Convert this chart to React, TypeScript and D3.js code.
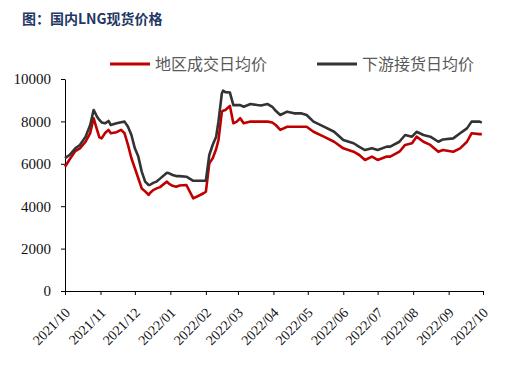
import React, { useEffect, useRef } from "react";
import * as d3 from "d3";

const dates = [
  "2021-10-01", "2021-10-05", "2021-10-10", "2021-10-14", "2021-10-19", "2021-10-23",
  "2021-10-26", "2021-10-29", "2021-10-31", "2021-11-02", "2021-11-05", "2021-11-08",
  "2021-11-10", "2021-11-15", "2021-11-19", "2021-11-22", "2021-11-25", "2021-11-28",
  "2021-12-01", "2021-12-04", "2021-12-07", "2021-12-10", "2021-12-13", "2021-12-14",
  "2021-12-17", "2021-12-20", "2021-12-23", "2021-12-29", "2021-12-31", "2022-01-03",
  "2022-01-06", "2022-01-09", "2022-01-15", "2022-01-21", "2022-01-27", "2022-01-30",
  "2022-02-01", "2022-02-04", "2022-02-07", "2022-02-10", "2022-02-12", "2022-02-15",
  "2022-02-16", "2022-02-18", "2022-02-22", "2022-02-25", "2022-02-28", "2022-03-03",
  "2022-03-06", "2022-03-12", "2022-03-18", "2022-03-21", "2022-03-27", "2022-03-31",
  "2022-04-03", "2022-04-07", "2022-04-13", "2022-04-19", "2022-04-25", "2022-04-30",
  "2022-05-06", "2022-05-15", "2022-05-24", "2022-06-01", "2022-06-10", "2022-06-15",
  "2022-06-20", "2022-06-26", "2022-07-01", "2022-07-09", "2022-07-12", "2022-07-20",
  "2022-07-25", "2022-07-31", "2022-08-04", "2022-08-10", "2022-08-16", "2022-08-23",
  "2022-08-27", "2022-09-05", "2022-09-11", "2022-09-17", "2022-09-21", "2022-09-28",
  "2022-09-30",
];

// 下游接货日均价
const downstream = [
  6270, 6415, 6730, 6890, 7280, 7830,
  8540, 8220, 8070, 7950, 7910, 8020,
  7830, 7910, 7960, 7990, 7750, 7360,
  6730, 6340, 5630, 5160, 5000, 5000,
  5100, 5160, 5300, 5580, 5550, 5470,
  5420, 5420, 5390, 5200, 5200, 5200,
  5200, 6415, 6900, 7280, 8000, 9330,
  9450, 9380, 9360, 8770, 8770, 8770,
  8690, 8820, 8770, 8750, 8820, 8690,
  8500, 8300, 8460, 8380, 8380, 8300,
  7990, 7750, 7510, 7120, 6970, 6800,
  6650, 6730, 6650, 6810, 6810, 7040,
  7360, 7280, 7510, 7360, 7280, 7040,
  7150, 7200, 7440, 7670, 7990, 7990,
  7940,
];

// 地区成交日均价
const regional = [
  5860, 6200, 6600, 6730, 7040, 7450,
  8150, 7600, 7250, 7200, 7450, 7600,
  7440, 7490, 7600, 7440, 6890, 6260,
  5790, 5320, 4840, 4700, 4530, 4610,
  4760, 4840, 4900, 5160, 5050, 4960,
  4920, 4980, 5000, 4370, 4530, 4610,
  4680, 6020, 6260, 6700, 7120, 8460,
  8500, 8540, 8730, 7910, 7990, 8150,
  7910, 7990, 7990, 7990, 7990, 7950,
  7830, 7600, 7750, 7750, 7750, 7750,
  7510, 7280, 7040, 6730, 6570, 6415,
  6180, 6340, 6180, 6340, 6340, 6570,
  6890, 6970, 7280, 7040, 6890, 6570,
  6650, 6570, 6730, 7040, 7440, 7400,
  7400,
];

const yTicks = [0, 2000, 4000, 6000, 8000, 10000];
const monthTicks = [
  "2021-10-01", "2021-11-01", "2021-12-01", "2022-01-01", "2022-02-01", "2022-03-01",
  "2022-04-01", "2022-05-01", "2022-06-01", "2022-07-01", "2022-08-01", "2022-09-01",
  "2022-10-01",
];

const seriesNames = ["地区成交日均价", "下游接货日均价"];
const title = "图：国内LNG现货价格";

const W = 514;
const H = 369;
const serif = "'Liberation Serif', 'Times New Roman', serif";

export default function App() {
  const ref = useRef<SVGSVGElement>(null);

  useEffect(() => {
    const svg = d3.select(ref.current);
    svg.selectAll("*").remove();

    const parse = d3.timeParse("%Y-%m-%d");
    const x = d3
      .scaleTime()
      .domain([parse("2021-10-01")!, parse("2022-10-01")!])
      .range([65, 483]);
    const y = d3.scaleLinear().domain([0, 10000]).range([291, 79]);

    svg
      .append("text")
      .attr("x", 22)
      .attr("y", 24)
      .style("font-family", "'Noto Sans CJK SC', sans-serif")
      .style("font-weight", "bold")
      .style("font-size", "14px")
      .attr("fill", "#1f3864")
      .text(title);

    // y axis
    const yAxis = svg
      .append("g")
      .attr("transform", "translate(65,0)")
      .call(d3.axisLeft(y).tickValues(yTicks).tickSize(4).tickSizeOuter(0).tickFormat(d3.format("d")));
    yAxis.attr("font-family", null).attr("font-size", null);
    yAxis.select(".domain").attr("stroke", "#000");
    yAxis.selectAll(".tick line").attr("stroke", "#000");
    yAxis
      .selectAll(".tick text")
      .attr("x", -14)
      .style("font-family", serif)
      .style("font-size", "15px")
      .attr("fill", "#111");

    // x axis
    const xAxis = svg
      .append("g")
      .attr("transform", "translate(0,291)")
      .call(
        d3
          .axisBottom(x)
          .tickValues(monthTicks.map((d) => parse(d)!))
          .tickSize(4)
          .tickSizeOuter(0)
          .tickFormat((d) => d3.timeFormat("%Y/%m")(d as Date))
      );
    xAxis.attr("font-family", null).attr("font-size", null);
    xAxis.select(".domain").attr("stroke", "#000");
    xAxis.selectAll(".tick line").attr("stroke", "#000");
    xAxis
      .selectAll(".tick text")
      .attr("x", 0)
      .attr("y", 0)
      .attr("dy", "0.35em")
      .attr("transform", "translate(2,19) rotate(-45)")
      .attr("text-anchor", "end")
      .style("font-family", serif)
      .style("font-size", "14px")
      .attr("fill", "#111");

    const rows = dates.map((d, i) => ({ date: parse(d)!, a: regional[i], b: downstream[i] }));

    const lineA = d3
      .line<{ date: Date; a: number; b: number }>()
      .x((d) => x(d.date))
      .y((d) => y(d.a));
    const lineB = d3
      .line<{ date: Date; a: number; b: number }>()
      .x((d) => x(d.date))
      .y((d) => y(d.b));

    svg
      .append("path")
      .datum(rows)
      .attr("d", lineA)
      .attr("fill", "none")
      .attr("stroke", "#c00000")
      .attr("stroke-width", 2.6)
      .attr("stroke-linejoin", "round");
    svg
      .append("path")
      .datum(rows)
      .attr("d", lineB)
      .attr("fill", "none")
      .attr("stroke", "#333333")
      .attr("stroke-width", 2.6)
      .attr("stroke-linejoin", "round");

    // legend
    const legend = [
      { name: seriesNames[0], color: "#c00000", x0: 110 },
      { name: seriesNames[1], color: "#333333", x0: 317 },
    ];
    legend.forEach((l) => {
      svg
        .append("line")
        .attr("x1", l.x0)
        .attr("x2", l.x0 + 40)
        .attr("y1", 64)
        .attr("y2", 64)
        .attr("stroke", l.color)
        .attr("stroke-width", 3);
      svg
        .append("text")
        .attr("x", l.x0 + 45)
        .attr("y", 64)
        .attr("dy", "0.35em")
        .style("font-family", "'Noto Sans CJK SC', sans-serif")
        .style("font-size", "16px")
        .attr("fill", "#595959")
        .text(l.name);
    });
  }, []);

  return (
    <svg
      ref={ref}
      width={W}
      height={H}
      style={{ position: "absolute", left: 0, top: 0, background: "#fff" }}
    ></svg>
  );
}
